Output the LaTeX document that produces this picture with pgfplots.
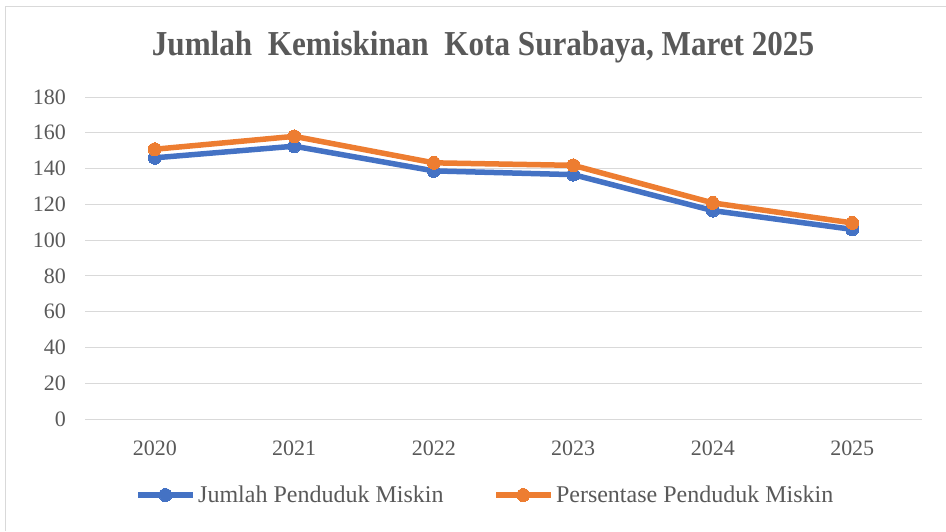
\documentclass[border=0pt]{standalone}
\usepackage{pgfplots}
\pgfplotsset{compat=1.18}
\usepackage{fontspec}
\setmainfont{Liberation Serif}
\definecolor{gtxt}{HTML}{595959}
\definecolor{grd}{HTML}{D9D9D9}
\definecolor{cblue}{HTML}{4472C4}
\definecolor{corange}{HTML}{ED7D31}
\begin{document}
\begin{tikzpicture}[x=1pt,y=1pt]
\path[use as bounding box] (0pt,0pt) rectangle (946pt,531pt);
\draw[grd, line width=1pt] (5pt,0pt) -- (5pt,524pt) -- (946pt,524pt);
\node[text=gtxt, font=\fontsize{35}{35}\selectfont\bfseries] at (483pt,484pt) {\scalebox{0.89}[1]{Jumlah\ \ Kemiskinan\ \ Kota Surabaya, Maret 2025}};
\begin{axis}[
  at={(85pt,112pt)}, anchor=south west,
  scale only axis, width=837pt, height=322pt,
  xmin=-0.5, xmax=5.5, ymin=0, ymax=180,
  xtick={0,1,2,3,4,5},
  xticklabels={2020,2021,2022,2023,2024,2025},
  ytick={0,20,...,180},
  axis line style={draw=none},
  major tick length=0pt,
  ymajorgrids, grid style={grd, line width=1pt},
  tick label style={text=gtxt, font=\fontsize{22}{22}\selectfont},
  /pgf/number format/assume math mode=true,
  yticklabel style={inner sep=0pt, anchor=east, xshift=-19pt},
  xticklabel style={inner sep=0pt, anchor=center, yshift=-29pt},
  clip=false,
  legend style={at={(axis description cs:0.5,0)}, anchor=center, yshift=-76pt, xshift=-18pt,
    draw=none, fill=none, legend columns=2, text=gtxt,
    font=\fontsize{24}{24}\selectfont,
    nodes={inner sep=2pt},
    /tikz/every even column/.append style={column sep=48pt},
    /tikz/every odd column/.append style={column sep=0pt}},
  legend image code/.code={\draw[mark repeat=2, mark phase=2, #1] plot coordinates {(0pt,0pt) (27pt,0pt) (55pt,0pt)};},
]
\addplot[cblue, line width=5.5pt, mark=*, mark size=6.5pt, mark options={line width=0pt, fill=cblue}] coordinates {
 (0,146) (1,152.5) (2,138.7) (3,136.6) (4,116.5) (5,106)};
\addlegendentry{Jumlah Penduduk Miskin}
\addplot[corange, line width=5.5pt, mark=*, mark size=6.5pt, mark options={line width=0pt, fill=corange}] coordinates {
 (0,150.8) (1,158) (2,143.2) (3,141.8) (4,120.8) (5,109.6)};
\addlegendentry{Persentase Penduduk Miskin}
\end{axis}
\end{tikzpicture}
\end{document}
